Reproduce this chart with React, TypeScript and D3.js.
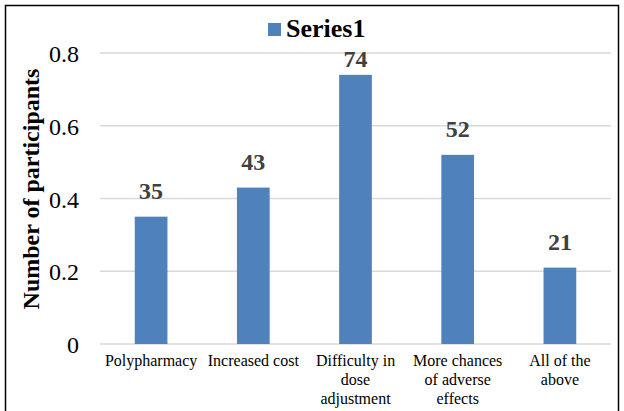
import { useEffect, useRef } from 'react';
import * as d3 from 'd3';

const categories = [
	['Polypharmacy'],
	['Increased cost'],
	['Difficulty in', 'dose', 'adjustment'],
	['More chances', 'of adverse', 'effects'],
	['All of the', 'above'],
];
const values = [0.35, 0.43, 0.74, 0.52, 0.21];
const valueLabels = ['35', '43', '74', '52', '21'];
const yTicks = [0, 0.2, 0.4, 0.6, 0.8];

const W = 624;
const H = 411;

const App = () => {
	const svgRef = useRef<SVGSVGElement>(null);

	useEffect(() => {
		if (!svgRef.current) return;
		const svg = d3.select(svgRef.current);
		svg.selectAll('*').remove();

		const left = 100;
		const right = 611;
		const top = 53;
		const bottom = 344;

		svg.append('rect')
			.attr('x', 5.5)
			.attr('y', 5.5)
			.attr('width', 613)
			.attr('height', 410)
			.attr('fill', '#fff')
			.attr('stroke', '#000')
			.attr('stroke-width', 1.5);

		const x = d3
			.scaleBand<number>()
			.domain(d3.range(values.length))
			.range([left, right])
			.paddingInner(0.68)
			.paddingOuter(0.34);

		const y = d3.scaleLinear().domain([0, 0.8]).range([bottom, top]);

		// gridlines
		svg.append('g')
			.selectAll('line')
			.data(yTicks)
			.join('line')
			.attr('x1', left)
			.attr('x2', right)
			.attr('y1', (d) => y(d))
			.attr('y2', (d) => y(d))
			.attr('stroke', '#d9d9d9')
			.attr('stroke-width', 1.3);

		svg.append('g')
			.selectAll('text')
			.data(yTicks)
			.join('text')
			.attr('x', 79)
			.attr('y', (d) => y(d) + 9)
			.attr('text-anchor', 'end')
			.attr('font-size', 24)
			.text((d) => (d === 0 ? '0' : d.toFixed(1)));

		svg.append('g')
			.selectAll('rect')
			.data(values)
			.join('rect')
			.attr('x', (_, i) => x(i)!)
			.attr('width', x.bandwidth())
			.attr('y', (d) => y(d))
			.attr('height', (d) => bottom - y(d))
			.attr('fill', '#4f81bd');

		// labels are kept below the legend, like the source does for the tallest bar
		svg.append('g')
			.selectAll('text')
			.data(values)
			.join('text')
			.attr('x', (_, i) => x(i)! + x.bandwidth() / 2)
			.attr('y', (d) => Math.max(y(d) - 18, 67))
			.attr('text-anchor', 'middle')
			.attr('font-size', 24)
			.attr('font-weight', 'bold')
			.attr('fill', '#404040')
			.text((_, i) => valueLabels[i]);

		const xl = svg.append('g');
		categories.forEach((lines, i) => {
			const t = xl
				.append('text')
				.attr('x', x(i)! + x.bandwidth() / 2)
				.attr('y', 366)
				.attr('text-anchor', 'middle')
				.attr('font-size', 16);
			lines.forEach((ln, j) => {
				t.append('tspan')
					.attr('x', x(i)! + x.bandwidth() / 2)
					.attr('dy', j === 0 ? 0 : 19)
					.text(ln);
			});
		});

		svg.append('text')
			.attr('transform', 'translate(39,189) rotate(-90)')
			.attr('text-anchor', 'middle')
			.attr('font-size', 24)
			.attr('font-weight', 'bold')
			.text('Number of participants');

		svg.append('rect')
			.attr('x', 268)
			.attr('y', 23)
			.attr('width', 13)
			.attr('height', 13)
			.attr('fill', '#4f81bd');
		svg.append('text')
			.attr('x', 286)
			.attr('y', 37)
			.attr('font-size', 26)
			.attr('font-weight', 'bold')
			.text('Series1');
	}, []);

	return (
		<svg
			ref={svgRef}
			width={W}
			height={H}
			fontFamily="'Liberation Serif', 'Times New Roman', serif"
			style={{ position: 'absolute', left: 0, top: 0 }}
		></svg>
	);
};

export default App;
